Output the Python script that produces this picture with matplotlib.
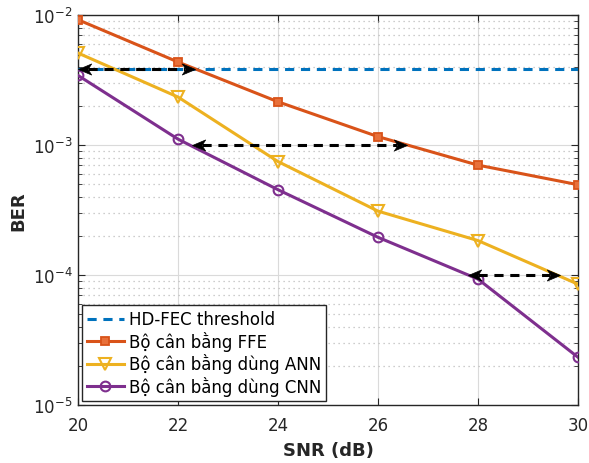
import numpy as np
import matplotlib.pyplot as plt
from matplotlib.path import Path
from matplotlib.transforms import Affine2D
from matplotlib.ticker import LogLocator, NullFormatter

snr = [20, 22, 24, 26, 28, 30]
ber_ffe = [9.2e-3, 4.35e-3, 2.15e-3, 1.16e-3, 7.0e-4, 4.95e-4]
ber_ann = [5.1e-3, 2.34e-3, 7.46e-4, 3.1e-4, 1.84e-4, 8.5e-5]
ber_cnn = [3.43e-3, 1.11e-3, 4.53e-4, 1.95e-4, 9.3e-5, 2.33e-5]
hd_fec = 3.82e-3

# double arrows showing the SNR gain: (x_left, x_right, y)
gain_arrows = [(20.0, 22.34, 3.82e-3),
               (22.29, 26.59, 1.0e-3),
               (27.8, 29.64, 1.0e-4)]

labels = ['HD-FEC threshold', 'Bộ cân bằng FFE',
          'Bộ cân bằng dùng ANN', 'Bộ cân bằng dùng CNN']

plt.rcParams['font.family'] = ['DejaVu Sans']

fig = plt.figure(figsize=(5.89, 4.64), dpi=100)
ax = fig.add_axes([0.1324, 0.125, 0.8489, 0.8405])

ax.plot([20, 30], [hd_fec, hd_fec], '--', color='#0072BD', lw=2.2,
        dashes=(3, 2.2), label=labels[0], zorder=3)
ax.plot(snr, ber_ffe, '-s', color='#D95319', lw=2.2, ms=6,
        mfc='#E8703A', mec='#D95319', mew=1.3, label=labels[1], zorder=4)
ax.plot(snr, ber_ann, '-v', color='#EDB120', lw=2.2, ms=8,
        mfc='none', mew=1.5, label=labels[2], zorder=4)
ax.plot(snr, ber_cnn, '-o', color='#7E2F8E', lw=2.2, ms=7,
        mfc='none', mew=1.5, label=labels[3], zorder=4)

# notched arrow head, tip at origin pointing right
head = Path([(0, 0), (-1, 0.42), (-0.72, 0), (-1, -0.42), (0, 0)],
            [Path.MOVETO, Path.LINETO, Path.LINETO, Path.LINETO, Path.CLOSEPOLY])
head_left = head.transformed(Affine2D().scale(-1, 1))

for x0, x1, y in gain_arrows:
    ax.plot([x0 + 0.2, x1 - 0.2], [y, y], color='k', lw=2.2, dashes=(3, 2.2), zorder=5)
    ax.plot([x1], [y], marker=head, ms=19, color='k', mec='k', mew=0.5, zorder=6)
    ax.plot([x0], [y], marker=head_left, ms=19, color='k', mec='k', mew=0.5, zorder=6)

ax.set_yscale('log')
ax.set_xlim(20, 30)
ax.set_ylim(1e-5, 1e-2)
ax.set_xticks([20, 22, 24, 26, 28, 30])
ax.yaxis.set_major_locator(LogLocator(base=10, numticks=10))
ax.yaxis.set_minor_locator(LogLocator(base=10, subs=np.arange(2, 10), numticks=10))
ax.yaxis.set_minor_formatter(NullFormatter())

ax.grid(True, which='major', color='#DADADA', lw=0.8, ls='-')
ax.grid(True, which='minor', axis='y', color='#BDBDBD', lw=0.9, ls=(0, (1, 3)))
ax.set_axisbelow(True)

ax.tick_params(which='both', direction='in', top=True, right=True,
               labelsize=12, colors='#262626')
ax.tick_params(which='major', length=5)
ax.tick_params(which='minor', length=3)
ax.tick_params(axis='x', pad=8)
ax.tick_params(axis='y', pad=4)
for sp in ax.spines.values():
    sp.set_color('#262626')
    sp.set_linewidth(1)

ax.set_xlabel('SNR (dB)', fontsize=13, fontweight='bold', color='#262626', labelpad=5)
ax.set_ylabel('BER', fontsize=13, fontweight='bold', color='#262626', labelpad=4)

leg = ax.legend(loc='lower left', fontsize=12, fancybox=False, framealpha=1,
                edgecolor='#262626', handlelength=2.2, handletextpad=0.3,
                borderpad=0.3, labelspacing=0.15, borderaxespad=0.25)
leg.get_frame().set_linewidth(1)

fig.savefig('out.png', dpi=100)
